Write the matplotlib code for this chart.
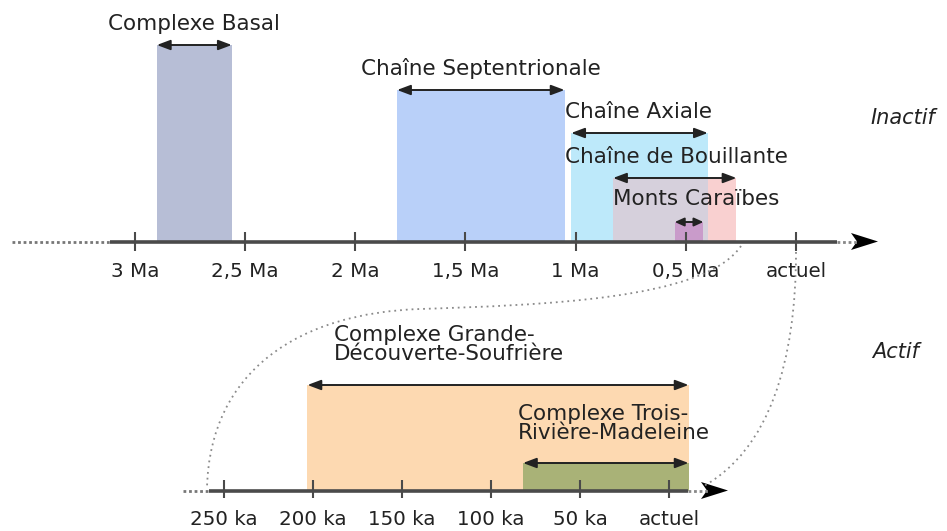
import matplotlib
matplotlib.use("Agg")
import matplotlib.pyplot as plt
from matplotlib.path import Path
from matplotlib.patches import PathPatch, Polygon

# --- data: top timeline (Ma), inactive volcanic complexes ---
top_names = ["Complexe Basal", "Chaîne Septentrionale", "Chaîne Axiale",
             "Chaîne de Bouillante", "Monts Caraïbes"]
top_start = [2.90, 1.81, 1.02, 0.83, 0.55]
top_end = [2.56, 1.05, 0.40, 0.27, 0.42]
top_ticks = [3, 2.5, 2, 1.5, 1, 0.5, 0]
top_ticklabels = ["3 Ma", "2,5 Ma", "2 Ma", "1,5 Ma", "1 Ma", "0,5 Ma", "actuel"]

# --- data: bottom timeline (ka), active complexes ---
bot_names = ["Complexe Grande-\nDécouverte-Soufrière",
             "Complexe Trois-\nRivière-Madeleine"]
bot_start = [203, 82]
bot_end = [-11, -11]
bot_ticks = [250, 200, 150, 100, 50, 0]
bot_ticklabels = ["250 ka", "200 ka", "150 ka", "100 ka", "50 ka", "actuel"]

# --- styles ---
top_colors = ["#b7bed6", "#b9d0f9", "#bde9fa", "#f9d0d0", "#c99bca"]
overlap_color = "#d6d0dc"
bot_colors = ["#fdd9b1", "#a9b277"]
top_levels = [45, 90, 133, 178, 222]     # bar tops, in pixels from top
bot_levels = [385, 463]
top_axis_y, bot_axis_y = 241.5, 490.5
txt_color = "#222222"
line_color = "#4a4a4a"

W, H = 947, 531
fig = plt.figure(figsize=(W / 100, H / 100), dpi=100)

def overlay(x0, x1):
    ax = fig.add_axes([0, 0, 1, 1])
    ax.set_xlim(x0, x1)
    ax.set_ylim(H, 0)
    ax.axis("off")
    ax.patch.set_alpha(0)
    return ax

# pixel = 796 - 220.4 * Ma ; pixel = 669 - 1.781 * ka
ax_top = overlay(796 / 220.4, (796 - W) / 220.4)
ax_bot = overlay(669 / 1.781, (669 - W) / 1.781)
deco = overlay(0, W)

def span_arrow(ax, s, e, lvl, small=False):
    style = ("<|-|>,head_length=0.55,head_width=0.25" if small
             else "<|-|>,head_length=0.8,head_width=0.3")
    ax.annotate("", xy=(e, lvl), xytext=(s, lvl),
                arrowprops=dict(arrowstyle=style, color="#222222", lw=1.4,
                                shrinkA=0, shrinkB=0, mutation_scale=10))

# top bars
for s, e, lvl, c in zip(top_start, top_end, top_levels, top_colors):
    ax_top.bar(s, lvl - top_axis_y, width=e - s, bottom=top_axis_y,
               align="edge", color=c, lw=0)
# overlap of Chaîne Axiale and Chaîne de Bouillante
ov_s = min(top_start[2], top_start[3])
ov_e = max(top_end[2], top_end[3])
ax_top.bar(ov_s, top_levels[3] - top_axis_y, width=ov_e - ov_s, bottom=top_axis_y,
           align="edge", color=overlap_color, lw=0)
ax_top.bar(top_start[4], top_levels[4] - top_axis_y, width=top_end[4] - top_start[4],
           bottom=top_axis_y, align="edge", color=top_colors[4], lw=0)

for i, (s, e, lvl) in enumerate(zip(top_start, top_end, top_levels)):
    span_arrow(ax_top, s, e, lvl, small=(i == 4))

# top labels
fs = 15.5
ax_top.text((top_start[0] + top_end[0]) / 2, 30, top_names[0], ha="center",
            va="baseline", fontsize=fs, color=txt_color)
ax_top.text((top_start[1] + top_end[1]) / 2, 75, top_names[1], ha="center",
            va="baseline", fontsize=fs, color=txt_color)
ax_top.text(top_end[1], 118, top_names[2], ha="left", va="baseline",
            fontsize=fs, color=txt_color)
ax_top.text(top_end[1], 163, top_names[3], ha="left", va="baseline",
            fontsize=fs, color=txt_color)
ax_top.text(top_start[3], 205, top_names[4], ha="left", va="baseline",
            fontsize=fs, color=txt_color)

# bottom bars
for s, e, lvl, c in zip(bot_start, bot_end, bot_levels, bot_colors):
    ax_bot.bar(s, lvl - bot_axis_y, width=e - s, bottom=bot_axis_y,
               align="edge", color=c, lw=0)
for s, e, lvl in zip(bot_start, bot_end, bot_levels):
    span_arrow(ax_bot, s, e, lvl)

ax_bot.text(188, 360, bot_names[0], ha="left", va="baseline", fontsize=fs,
            color=txt_color, linespacing=0.95)
ax_bot.text(85, 439, bot_names[1], ha="left", va="baseline", fontsize=fs,
            color=txt_color, linespacing=0.95)

# time axes with ticks
tfs = 14.3
ax_top.vlines(top_ticks, top_axis_y - 10, top_axis_y + 9, color=line_color, lw=1.5)
for t, lab in zip(top_ticks, top_ticklabels):
    ax_top.text(t, 277, lab, ha="center", va="baseline", fontsize=tfs, color=txt_color)
ax_bot.vlines(bot_ticks, bot_axis_y - 11, bot_axis_y + 7, color=line_color, lw=1.5)
for t, lab in zip(bot_ticks, bot_ticklabels):
    ax_bot.text(t, 525, lab, ha="center", va="baseline", fontsize=tfs, color=txt_color)

def time_axis(y, x_dot0, x_solid0, x_solid1, x_tip):
    deco.plot([x_dot0, x_solid0], [y, y], color="#777777", lw=2, ls=(0, (1, 1)))
    deco.plot([x_solid0, x_solid1], [y, y], color=line_color, lw=2.6,
              solid_capstyle="butt")
    deco.plot([x_solid1, x_tip - 20], [y, y], color="#888888", lw=2, ls=(0, (1, 1)))
    deco.add_patch(Polygon([(x_tip, y), (x_tip - 27, y - 8.5), (x_tip - 21, y),
                            (x_tip - 27, y + 8.5)], closed=True, color="black", lw=0))

time_axis(top_axis_y, 12, 110, 837, 878)
time_axis(bot_axis_y, 183, 209, 688, 728)

# dotted zoom connectors between the two timelines
dot_kw = dict(fill=False, edgecolor="#8a8a8a", lw=1.3, ls=(0, (1, 2.2)))
p1 = Path([(741, 246), (705, 300), (540, 305), (420, 309),
           (300, 313), (210, 370), (207, 488)],
          [Path.MOVETO, Path.CURVE4, Path.CURVE4, Path.CURVE4,
           Path.CURVE4, Path.CURVE4, Path.CURVE4])
p2 = Path([(796, 252), (796, 360), (770, 450), (702, 487)],
          [Path.MOVETO, Path.CURVE4, Path.CURVE4, Path.CURVE4])
deco.add_patch(PathPatch(p1, **dot_kw))
deco.add_patch(PathPatch(p2, **dot_kw))

deco.text(870, 118, "Inactif", style="italic", ha="left", va="center",
          fontsize=15, color=txt_color)
deco.text(872, 352, "Actif", style="italic", ha="left", va="center",
          fontsize=15, color=txt_color)

fig.savefig("out.png", dpi=100)
